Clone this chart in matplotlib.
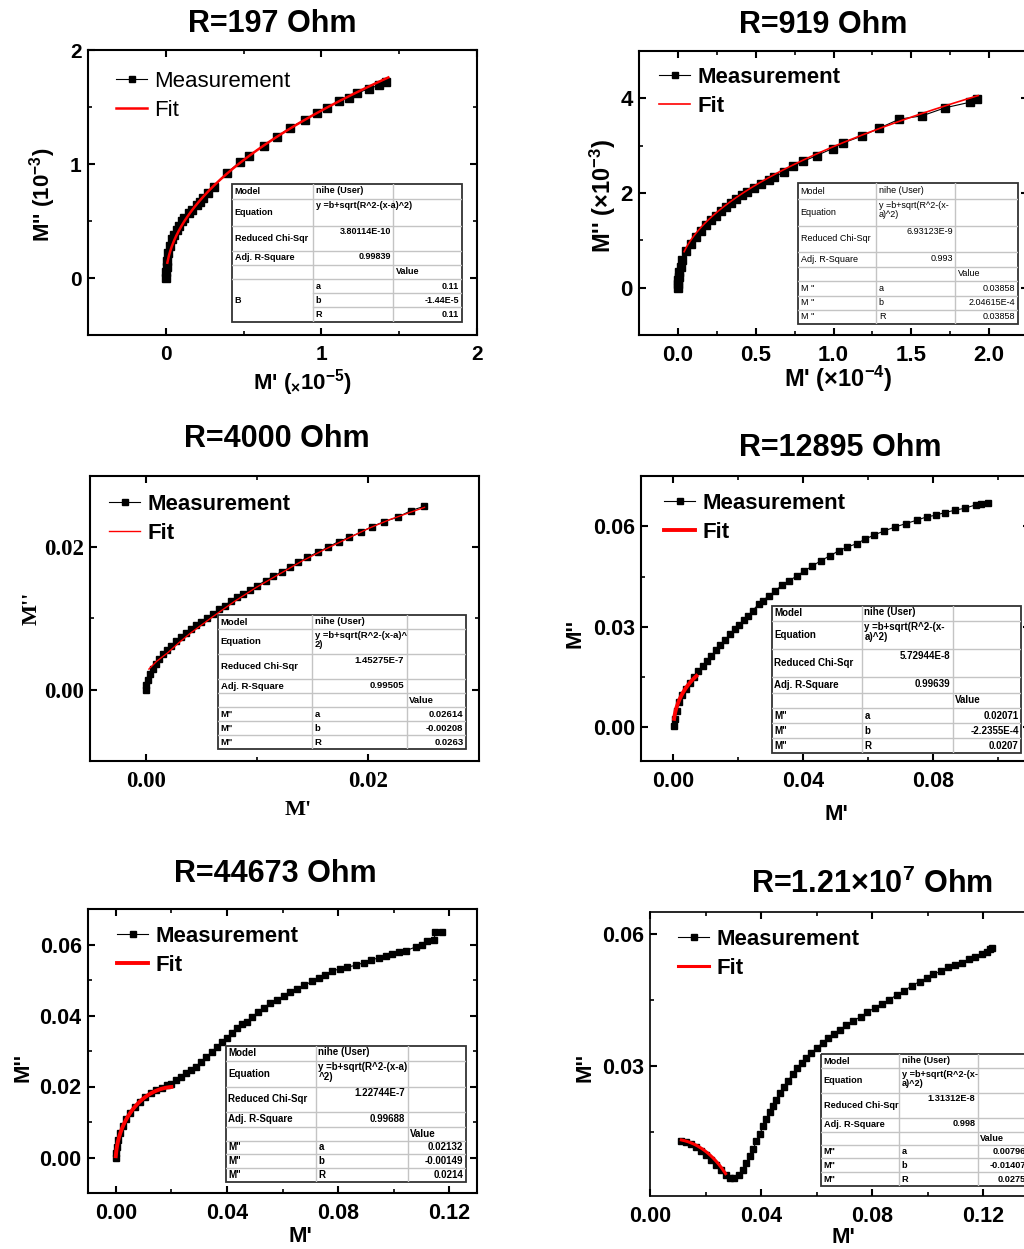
import numpy as np
import matplotlib.pyplot as plt
from matplotlib.ticker import MultipleLocator, FormatStrFormatter
from matplotlib.patches import Rectangle

plt.rcParams['font.family'] = 'Liberation Sans'
plt.rcParams['font.weight'] = 'bold'
plt.rcParams['mathtext.fontset'] = 'custom'
plt.rcParams['mathtext.rm'] = 'Liberation Sans:bold'
plt.rcParams['mathtext.bf'] = 'Liberation Sans:bold'
plt.rcParams['mathtext.it'] = 'Liberation Sans:italic:bold'

# ---------------- data ----------------
titles = ['R=197 Ohm', 'R=919 Ohm', 'R=4000 Ohm', 'R=12895 Ohm', 'R=44673 Ohm',
          r'R=1.21×10$^{7}$ Ohm']

# panel 1 (x in 1e-5, y in 1e-3)
m1_x = [0.0, 0.002, 0.006, 0.010, 0.017, 0.025, 0.039, 0.055, 0.071, 0.085, 0.103, 0.120,
        0.146, 0.170, 0.199, 0.220, 0.242, 0.270, 0.307, 0.392, 0.478, 0.532, 0.628, 0.714,
        0.800, 0.896, 0.971, 1.035, 1.110, 1.175, 1.228, 1.303, 1.368, 1.417]
m1_y = [0.0, 0.05, 0.10, 0.15, 0.22, 0.28, 0.34, 0.38, 0.42, 0.46, 0.50, 0.53,
        0.57, 0.60, 0.64, 0.67, 0.70, 0.75, 0.80, 0.92, 1.02, 1.07, 1.16, 1.24,
        1.32, 1.39, 1.45, 1.49, 1.55, 1.58, 1.62, 1.66, 1.69, 1.72]
fit1 = [0.11, -1.44e-5, 0.11]          # a, b, R
fit1_range = [0.01, 1.43]
tab1_chi, tab1_adj = '3.80114E-10', '0.99839'
tab1_vals = ['0.11', '-1.44E-5', '0.11']

# panel 2 (x in 1e-4, y in 1e-3)
m2_x = [0.0, 0.001, 0.003, 0.006, 0.010, 0.017, 0.028, 0.049, 0.082, 0.114, 0.146, 0.178,
        0.210, 0.242, 0.275, 0.307, 0.339, 0.371, 0.414, 0.446, 0.489, 0.532, 0.586, 0.618,
        0.682, 0.742, 0.807, 0.891, 0.994, 1.064, 1.180, 1.294, 1.423, 1.569, 1.717, 1.880, 1.921]
m2_y = [0.0, 0.08, 0.16, 0.23, 0.33, 0.44, 0.58, 0.77, 0.93, 1.07, 1.20, 1.33,
        1.43, 1.52, 1.61, 1.70, 1.79, 1.87, 1.95, 2.02, 2.10, 2.19, 2.27, 2.33,
        2.45, 2.57, 2.67, 2.79, 2.94, 3.06, 3.20, 3.37, 3.56, 3.63, 3.80, 3.92, 3.99]
fit2 = [0.03858, 2.04615e-4, 0.03858]
fit2_range = [0.04, 1.93]
tab2_chi, tab2_adj = '6.93123E-9', '0.993'
tab2_vals = ['0.03858', '2.04615E-4', '0.03858']

# panel 3
m3_x = [0.0, 0.00006, 0.00018, 0.00039, 0.00063, 0.00090, 0.00120, 0.00153, 0.00189, 0.00228,
        0.00270, 0.00315, 0.00360, 0.00405, 0.00453, 0.00502, 0.00556, 0.00610, 0.00661, 0.00715,
        0.00766, 0.00826, 0.00880, 0.00940, 0.01006, 0.01081, 0.01150, 0.01225, 0.01300, 0.01375,
        0.01456, 0.01547, 0.01640, 0.01736, 0.01832, 0.01937, 0.02036, 0.02147, 0.02267, 0.02387,
        0.02507]
m3_y = [0.0, 0.00061, 0.00140, 0.00224, 0.00294, 0.00364, 0.00435, 0.00495, 0.00561, 0.00621,
        0.00682, 0.00738, 0.00799, 0.00855, 0.00902, 0.00949, 0.01009, 0.01065, 0.01131, 0.01182,
        0.01243, 0.01299, 0.01346, 0.01407, 0.01463, 0.01533, 0.01594, 0.01659, 0.01720, 0.01790,
        0.01860, 0.01930, 0.02000, 0.02080, 0.02140, 0.02210, 0.02290, 0.02360, 0.02421, 0.02514,
        0.02575]
# fit curve of this panel
fit3_x = [0.0003, 0.001, 0.002, 0.003, 0.004, 0.006, 0.008, 0.010, 0.012, 0.014,
          0.016, 0.018, 0.020, 0.022, 0.024, 0.0251]
fit3_y = [0.0029, 0.0040, 0.0052, 0.0066, 0.0079, 0.0102, 0.0124, 0.0144, 0.0162, 0.0180,
          0.0196, 0.0211, 0.0226, 0.0239, 0.0250, 0.0256]
tab3_chi, tab3_adj = '1.45275E-7', '0.99505'
tab3_vals = ['0.02614', '-0.00208', '0.0263']

# panel 4
m4_x = [0.0001, 0.0005, 0.0010, 0.0018, 0.0028, 0.0039, 0.0052, 0.0065, 0.0077, 0.0090,
        0.0103, 0.0117, 0.0131, 0.0144, 0.0160, 0.0175, 0.0189, 0.0203, 0.0217, 0.0230,
        0.0244, 0.0263, 0.0275, 0.0294, 0.0314, 0.0335, 0.0356, 0.0381, 0.0404, 0.0428,
        0.0454, 0.0483, 0.0510, 0.0536, 0.0565, 0.0590, 0.0619, 0.0650, 0.0684, 0.0717,
        0.0750, 0.0781, 0.0809, 0.0837, 0.0869, 0.0899, 0.0933, 0.0949, 0.0969]
m4_y = [0.0005, 0.0025, 0.0050, 0.0075, 0.0097, 0.0116, 0.0134, 0.0151, 0.0169, 0.0184,
        0.0199, 0.0214, 0.0231, 0.0246, 0.0261, 0.0278, 0.0293, 0.0306, 0.0320, 0.0333,
        0.0348, 0.0368, 0.0378, 0.0392, 0.0407, 0.0425, 0.0437, 0.0452, 0.0467, 0.0481,
        0.0497, 0.0512, 0.0527, 0.0538, 0.0548, 0.0561, 0.0574, 0.0586, 0.0598, 0.0608,
        0.0618, 0.0628, 0.0633, 0.0641, 0.0648, 0.0654, 0.0664, 0.0666, 0.0668]
fit4 = [0.02071, -2.2355e-4, 0.0207]
fit4_range = [0.0002, 0.0071]
tab4_chi, tab4_adj = '5.72944E-8', '0.99639'
tab4_vals = ['0.02071', '-2.2355E-4', '0.0207']

# panel 5
m5_x = [0.0, 0.0001, 0.0004, 0.0009, 0.0016, 0.0026, 0.0038, 0.0052, 0.0068, 0.0086,
        0.0105, 0.0125, 0.0145, 0.0165, 0.0184, 0.0200, 0.0217, 0.0235, 0.0254, 0.0270,
        0.0290, 0.0306, 0.0326, 0.0346, 0.0364, 0.0382, 0.0400, 0.0418, 0.0436, 0.0454,
        0.0472, 0.0490, 0.0511, 0.0532, 0.0556, 0.0580, 0.0604, 0.0628, 0.0652, 0.0679,
        0.0706, 0.0730, 0.0754, 0.0778, 0.0806, 0.0832, 0.0866, 0.0893, 0.0919, 0.0947,
        0.0971, 0.0995, 0.1019, 0.1046, 0.1079, 0.1103, 0.1121, 0.1145, 0.1150, 0.1175]
m5_y = [0.0, 0.0012, 0.0030, 0.0050, 0.0070, 0.0089, 0.0109, 0.0126, 0.0142, 0.0157,
        0.0170, 0.0181, 0.0190, 0.0197, 0.0203, 0.0208, 0.0217, 0.0228, 0.0238, 0.0247,
        0.0256, 0.0269, 0.0283, 0.0296, 0.0311, 0.0324, 0.0336, 0.0352, 0.0366, 0.0376,
        0.0383, 0.0395, 0.0409, 0.0421, 0.0435, 0.0444, 0.0455, 0.0465, 0.0475, 0.0485,
        0.0496, 0.0505, 0.0515, 0.0524, 0.0532, 0.0536, 0.0542, 0.0549, 0.0557, 0.0562,
        0.0568, 0.0574, 0.0578, 0.0583, 0.0593, 0.0599, 0.0609, 0.0612, 0.0634, 0.0634]
fit5 = [0.02132, -0.00149, 0.0214]
fit5_range = [0.0, 0.0200]
tab5_chi, tab5_adj = '1.22744E-7', '0.99688'
tab5_vals = ['0.02132', '-0.00149', '0.0214']

# panel 6
m6_x = [0.0112, 0.0130, 0.0148, 0.0166, 0.0184, 0.0202, 0.0220, 0.0238, 0.0256, 0.0274,
        0.0289, 0.0304, 0.0320, 0.0335, 0.0347, 0.0359, 0.0371, 0.0383, 0.0395, 0.0407,
        0.0419, 0.0431, 0.0443, 0.0455, 0.0467, 0.0481, 0.0497, 0.0513, 0.0529, 0.0546,
        0.0563, 0.0581, 0.0602, 0.0621, 0.0641, 0.0662, 0.0683, 0.0707, 0.0732, 0.0758,
        0.0782, 0.0810, 0.0836, 0.0861, 0.0888, 0.0914, 0.0942, 0.0970, 0.0996, 0.1020,
        0.1047, 0.1074, 0.1098, 0.1123, 0.1147, 0.1171, 0.1195, 0.1213, 0.1225, 0.1231]
m6_y = [0.0131, 0.0127, 0.0122, 0.0116, 0.0108, 0.0099, 0.0087, 0.0076, 0.0065, 0.0053,
        0.0047, 0.0046, 0.0052, 0.0065, 0.0080, 0.0095, 0.0112, 0.0129, 0.0146, 0.0163,
        0.0180, 0.0196, 0.0210, 0.0224, 0.0238, 0.0253, 0.0267, 0.0281, 0.0295, 0.0308,
        0.0319, 0.0330, 0.0342, 0.0353, 0.0363, 0.0372, 0.0382, 0.0393, 0.0403, 0.0412,
        0.0422, 0.0433, 0.0442, 0.0450, 0.0462, 0.0471, 0.0482, 0.0492, 0.0500, 0.0509,
        0.0515, 0.0524, 0.0530, 0.0535, 0.0543, 0.0548, 0.0554, 0.0560, 0.0565, 0.0568]
fit6 = [0.00796, -0.01407, 0.0275]
fit6_range = [0.0113, 0.0272]
tab6_chi, tab6_adj = '1.31312E-8', '0.998'
tab6_vals = ['0.00796', '-0.01407', '0.0275']

# ---------------- drawing ----------------
W, H = 1024, 1249
fig = plt.figure(figsize=(W / 100, H / 100), dpi=100)
SANS, SERIF = 'Liberation Sans', 'Liberation Serif'


def fpos(x, y):
    return x / W, 1 - y / H


def make_axes(box):
    l, t, r, b = box
    return fig.add_axes([l / W, 1 - b / H, (r - l) / W, (b - t) / H])


def fit_curve(fit, frange, xs, ys):
    # y = b + sqrt(R^2 - (x - a)^2), the model printed in each table
    a, b, R = fit
    xf = np.linspace(frange[0], frange[1], 300)
    yf = b + np.sqrt(R ** 2 - (xf * xs - a) ** 2)
    return xf, yf / ys


def draw_panel(ax, mx, my, fx, fy, lw_fit, ms):
    ax.plot(mx, my, '-s', color='black', ms=ms, lw=0.8, label='Measurement')
    ax.plot(fx, fy, color='red', lw=lw_fit, label='Fit')


def style(ax, xlim, ylim, xmaj, xmin, ymaj, ymin, xfmt, yfmt, fs, family=SANS, spw=1.5):
    ax.set_xlim(xlim)
    ax.set_ylim(ylim)
    ax.xaxis.set_major_locator(MultipleLocator(xmaj))
    ax.xaxis.set_minor_locator(MultipleLocator(xmin))
    ax.yaxis.set_major_locator(MultipleLocator(ymaj))
    ax.yaxis.set_minor_locator(MultipleLocator(ymin))
    ax.xaxis.set_major_formatter(FormatStrFormatter(xfmt))
    ax.yaxis.set_major_formatter(FormatStrFormatter(yfmt))
    ax.tick_params(which='both', direction='in', top=True, right=True,
                   labelsize=fs, labelfontfamily=family)
    ax.tick_params(which='major', length=5, width=1.5)
    ax.tick_params(which='minor', length=3, width=1.2)
    ax.tick_params(axis='x', which='both', pad=7)
    ax.tick_params(axis='y', which='both', pad=4.5)
    for s in ax.spines.values():
        s.set_linewidth(spw)


def legend(ax, hx, hy, weight='bold', fs=16):
    fpx = fs * 100 / 72
    ax.legend(loc='upper left', bbox_to_anchor=fpos(hx, hy - 0.38 * fpx),
              bbox_transform=fig.transFigure, frameon=False, borderpad=0,
              borderaxespad=0, handlelength=1.4, handletextpad=0.32,
              labelspacing=0.36, markerscale=0.75,
              prop={'size': fs, 'weight': weight, 'family': SANS})


def table(box, cx, ry, first, eq, chi, adj, vals, fs, fw, merged=False):
    l, t, r, b = box
    tax = fig.add_axes([l / W, 1 - b / H, (r - l) / W, (b - t) / H], zorder=5)
    tax.set_xlim(l, r)
    tax.set_ylim(b, t)
    tax.axis('off')
    tax.add_patch(Rectangle((l, t), r - l, b - t, facecolor='white', edgecolor='none'))
    ys = [t] + ry + [b]
    g = '#c4c4c4'
    for i, y in enumerate(ry):
        x0 = cx[0] if (merged and i >= 5) else l
        tax.plot([x0, r], [y, y], color=g, lw=1)
    for x in cx:
        tax.plot([x, x], [t, b], color=g, lw=1)
    tax.add_patch(Rectangle((l, t), r - l, b - t, facecolor='none',
                            edgecolor='#333333', lw=1.3, clip_on=False))

    def mid(i):
        return (ys[i] + ys[i + 1]) / 2

    kw = dict(fontsize=fs, fontweight=fw, family=SANS, clip_on=False)
    p = 2.5
    for i, s in enumerate(['Model', 'Equation', 'Reduced Chi-Sqr', 'Adj. R-Square']):
        tax.text(l + p, mid(i), s, ha='left', va='center', **kw)
    tax.text(cx[0] + p, mid(0) - 1, 'nihe (User)', ha='left', va='center', **kw)
    tax.text(cx[0] + p, ys[1] + 1.5, eq, ha='left', va='top', linespacing=1.0, **kw)
    tax.text(cx[1] - p, ys[2] + 1.5, chi, ha='right', va='top', **kw)
    tax.text(cx[1] - p, mid(3) - 1, adj, ha='right', va='center', **kw)
    tax.text(cx[1] + p, mid(4), 'Value', ha='left', va='center', **kw)
    for k, (n, v) in enumerate(zip(['a', 'b', 'R'], vals)):
        i = 5 + k
        if not merged:
            tax.text(l + p, mid(i), first, ha='left', va='center', **kw)
        tax.text(cx[0] + p, mid(i), n, ha='left', va='center', **kw)
        tax.text(r - p, mid(i), v, ha='right', va='center', **kw)
    if merged:
        tax.text(l + p, (ys[5] + ys[8]) / 2, first, ha='left', va='center', **kw)


# ---- panel 1 ----
ax1 = make_axes((88, 50, 477, 335))
draw_panel(ax1, m1_x, m1_y, *fit_curve(fit1, fit1_range, 1e-5, 1e-3), 1.8, 5.8)
style(ax1, (-0.5, 2), (-0.5, 2), 1, 0.5, 1, 0.5, '%d', '%d', 15)
legend(ax1, 116, 79, weight='normal')
table((232.3, 184.3, 461.7, 321.7), [313.3, 393.3],
      [199, 225.7, 250.7, 265, 279, 293.3, 307.3], 'B',
      'y =b+sqrt(R^2-(x-a)^2)', tab1_chi, tab1_adj, tab1_vals, 6.5, 'bold', merged=True)

# ---- panel 2 ----
ax2 = make_axes((639, 51, 1028, 335))
draw_panel(ax2, m2_x, m2_y, *fit_curve(fit2, fit2_range, 1e-4, 1e-3), 1.2, 5.2)
style(ax2, (-0.25, 2.25), (-1, 5), 0.5, 0.25, 2, 1, '%.1f', '%d', 16)
legend(ax2, 659, 75)
table((798, 183.3, 1018, 324), [876.3, 955.3],
      [199.3, 225.7, 251.7, 266.7, 281, 295.7, 310], "M ''",
      'y =b+sqrt(R^2-(x-\na)^2)', tab2_chi, tab2_adj, tab2_vals, 6.5, 'normal')

# ---- panel 3 ----
ax3 = make_axes((90, 476, 479, 761))
draw_panel(ax3, m3_x, m3_y, fit3_x, fit3_y, 1.0, 5.0)
style(ax3, (-0.005, 0.030), (-0.010, 0.030), 0.02, 0.01, 0.02, 0.01, '%.2f', '%.2f',
      16.5, family=SERIF)
legend(ax3, 109, 502)
table((218.3, 615, 466, 749), [312.3, 406.7],
      [629.3, 654.3, 679.3, 693.3, 707.3, 721, 735], 'M"',
      'y =b+sqrt(R^2-(x-a)^\n2)', tab3_chi, tab3_adj, tab3_vals, 6.8, 'bold')

# ---- panel 4 ----
ax4 = make_axes((641, 476, 1030, 761))
draw_panel(ax4, m4_x, m4_y, *fit_curve(fit4, fit4_range, 1, 1), 2.8, 5.0)
style(ax4, (-0.01, 0.11), (-0.010, 0.075), 0.04, 0.02, 0.03, 0.015, '%.2f', '%.2f', 15.5)
legend(ax4, 664, 501)
table((772, 606, 1021.3, 753.3), [862, 952.7],
      [621, 649.3, 677.3, 692.7, 708.3, 723.3, 738.3], 'M"',
      'y =b+sqrt(R^2-(x-\na)^2)', tab4_chi, tab4_adj, tab4_vals, 7, 'bold')

# ---- panel 5 ----
ax5 = make_axes((88, 909, 477, 1193))
draw_panel(ax5, m5_x, m5_y, *fit_curve(fit5, fit5_range, 1, 1), 2.8, 5.0)
style(ax5, (-0.01, 0.13), (-0.010, 0.070), 0.04, 0.02, 0.02, 0.01, '%.2f', '%.2f', 15.5)
legend(ax5, 117, 934)
table((225.7, 1045.7, 466, 1182.3), [316, 407.7],
      [1060.7, 1086.7, 1112.3, 1126.7, 1140.7, 1154.3, 1168.3], 'M"',
      'y =b+sqrt(R^2-(x-a)\n^2)', tab5_chi, tab5_adj, tab5_vals, 7, 'bold')

# ---- panel 6 ----
ax6 = make_axes((650, 912, 1039, 1196))
draw_panel(ax6, m6_x, m6_y, *fit_curve(fit6, fit6_range, 1, 1), 2.2, 5.0)
style(ax6, (0.0, 0.14), (0.0005, 0.065), 0.04, 0.02, 0.03, 0.015, '%.2f', '%.2f', 15.5,
      spw=1.2)
legend(ax6, 678, 937)
table((821.3, 1054, 1028, 1185.7), [899.3, 977.7],
      [1068.3, 1092.7, 1117.7, 1131.7, 1145, 1158.3, 1172.3], 'M"',
      'y =b+sqrt(R^2-(x-\na)^2)', tab6_chi, tab6_adj, tab6_vals, 6.6, 'bold')

# ---- titles ----
title_pos = [(272, 32), (823, 33), (277, 447), (840, 456), (275, 882), (872, 893)]
for s, (x, y) in zip(titles, title_pos):
    fig.text(*fpos(x, y), s, ha='center', va='baseline', fontsize=22, fontweight='bold')

# ---- axis labels ----
xlabels = [(r"M' (${}_{\times}$10$^{-5}$)", 302, 390, SANS, 16),
           (r"M' ($\times$10$^{-4}$)", 838, 387, SANS, 17),
           ("M'", 298, 815, SERIF, 16),
           ("M'", 836, 820, SANS, 16),
           ("M'", 300, 1242, SANS, 16),
           ("M'", 843, 1243, SANS, 16)]
for s, x, y, fam, fs in xlabels:
    fig.text(*fpos(x, y), s, ha='center', va='baseline', fontsize=fs,
             fontweight='bold', family=fam)

ylabels = [(r"M'' (10$^{-3}$)", 50, 195, SANS, 16),
           (r"M'' ($\times$10$^{-3}$)", 611, 196, SANS, 17),
           ("M''", 37, 608, SERIF, 16),
           ("M''", 580, 633, SANS, 16),
           ("M''", 28, 1067, SANS, 16),
           ("M''", 590, 1068, SANS, 16)]
for s, x, y, fam, fs in ylabels:
    fig.text(*fpos(x, y), s, ha='center', va='baseline', rotation=90,
             rotation_mode='anchor', fontsize=fs, fontweight='bold', family=fam)

fig.savefig('out.png', dpi=100, facecolor='white')
